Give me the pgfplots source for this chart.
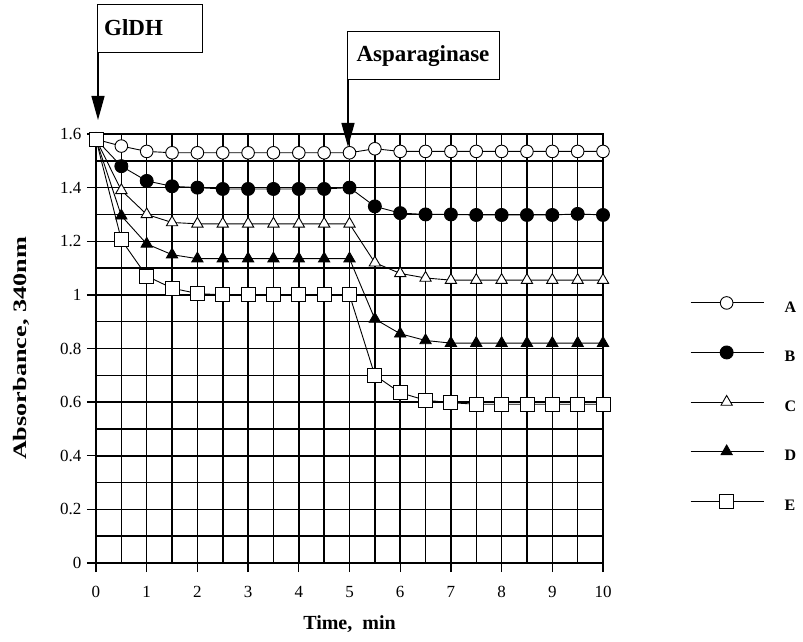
\documentclass[border=0pt]{standalone}
\usepackage{pgfplots}
\pgfplotsset{compat=1.18}
\usepackage{fontspec}
\setmainfont{Liberation Serif}
\usetikzlibrary{arrows.meta}
\begin{document}
\begin{tikzpicture}[x=1pt,y=1pt]
\useasboundingbox (0,0) rectangle (803,641);
\begin{axis}[
  at={(96pt,78pt)}, anchor=south west,
  scale only axis, width=507pt, height=429pt,
  xmin=0, xmax=10, ymin=0, ymax=1.6,
  xtick={0,1,2,3,4,5,6,7,8,9,10},
  ytick={0,0.2,0.4,0.6,0.8,1,1.2,1.4,1.6},
  minor x tick num=1, minor y tick num=1,
  grid=both,
  major grid style={black, line width=1.5pt},
  minor grid style={black, line width=1.5pt},
  axis line style={black, line width=1.8pt},
  tick style={black, line width=1.3pt},
  tick align=outside, major tick length=9pt, minor tick length=0pt,
  xtick pos=left, ytick pos=left,
  /pgf/number format/assume math mode=true,
  tick label style={font=\fontsize{17}{17}\selectfont},
  xticklabel style={yshift=-11pt},
  yticklabel style={xshift=-2pt},
  xlabel={Time,\ \ min},
  xlabel style={font=\bfseries\fontsize{20}{20}\selectfont, at={(axis description cs:0.5,-0.1425)}, anchor=center},
  ylabel={\scalebox{1.38}[1]{Absorbance, 340nm}},
  ylabel style={font=\bfseries\fontsize{19}{19}\selectfont, at={(axis description cs:-0.148,0.5)}, anchor=center},
  clip=false,
  legend style={draw=none, fill=none, at={(axis description cs:1.1716,0.367)}, anchor=west, row sep=30pt, font=\bfseries\fontsize{16}{16}\selectfont, inner sep=0pt},
  legend cell align=left,
  legend image code/.code={\draw[#1, mark repeat=2, mark phase=2] plot coordinates {(0pt,5pt) (36pt,5pt) (73pt,5pt)}; \path[draw=none, fill=none] (0pt,0pt) -- (92pt,0pt);},
  every axis plot/.append style={black, line width=0.9pt, mark options={line width=1.2pt, solid}},
]
\addplot[mark=*, mark size=6.3pt, mark options={fill=white}] coordinates {
(0,1.58) (0.5,1.555) (1,1.535) (1.5,1.53) (2,1.53) (2.5,1.53) (3,1.53) (3.5,1.53) (4,1.53) (4.5,1.53) (5,1.53)
(5.5,1.545) (6,1.535) (6.5,1.535) (7,1.535) (7.5,1.535) (8,1.535) (8.5,1.535) (9,1.535) (9.5,1.535) (10,1.535)};
\addlegendentry{A}
\addplot[mark=*, mark size=6.5pt, mark options={fill=black}] coordinates {
(0,1.58) (0.5,1.48) (1,1.425) (1.5,1.405) (2,1.40) (2.5,1.395) (3,1.395) (3.5,1.395) (4,1.395) (4.5,1.395) (5,1.40)
(5.5,1.33) (6,1.305) (6.5,1.30) (7,1.30) (7.5,1.298) (8,1.298) (8.5,1.298) (9,1.298) (9.5,1.302) (10,1.298)};
\addlegendentry{B}
\addplot[mark=triangle*, mark size=6.5pt, mark options={fill=white}] coordinates {
(0,1.58) (0.5,1.39) (1,1.30) (1.5,1.27) (2,1.265) (2.5,1.265) (3,1.265) (3.5,1.265) (4,1.265) (4.5,1.265) (5,1.265)
(5.5,1.12) (6,1.08) (6.5,1.063) (7,1.055) (7.5,1.055) (8,1.055) (8.5,1.055) (9,1.055) (9.5,1.055) (10,1.055)};
\addlegendentry{C}
\addplot[mark=triangle*, mark size=6.5pt, mark options={fill=black}] coordinates {
(0,1.58) (0.5,1.295) (1,1.19) (1.5,1.15) (2,1.135) (2.5,1.135) (3,1.135) (3.5,1.135) (4,1.135) (4.5,1.135) (5,1.135)
(5.5,0.91) (6,0.855) (6.5,0.83) (7,0.82) (7.5,0.82) (8,0.82) (8.5,0.82) (9,0.82) (9.5,0.82) (10,0.82)};
\addlegendentry{D}
\addplot[mark=square*, mark size=7pt, mark options={fill=white}] coordinates {
(0,1.58) (0.5,1.205) (1,1.07) (1.5,1.025) (2,1.005) (2.5,1.0) (3,1.0) (3.5,1.0) (4,1.0) (4.5,1.0) (5,1.0)
(5.5,0.70) (6,0.635) (6.5,0.607) (7,0.598) (7.5,0.592) (8,0.592) (8.5,0.592) (9,0.592) (9.5,0.592) (10,0.592)};
\addlegendentry{E}
\end{axis}
\draw[line width=1pt] (97,588) rectangle (202,636);
\node[anchor=west, inner sep=0pt, font=\bfseries\fontsize{23}{23}\selectfont] at (104,613) {GlDH};
\draw[line width=1.3pt, -{Triangle[length=24pt,width=13pt]}] (98,588) -- (98,521);
\draw[line width=1pt] (347,561) rectangle (499,609);
\node[inner sep=0pt, font=\bfseries\fontsize{23}{23}\selectfont] at (423,585) {Asparaginase};
\draw[line width=1.3pt, -{Triangle[length=24pt,width=13pt]}] (348,561) -- (348,494);
\end{tikzpicture}
\end{document}
